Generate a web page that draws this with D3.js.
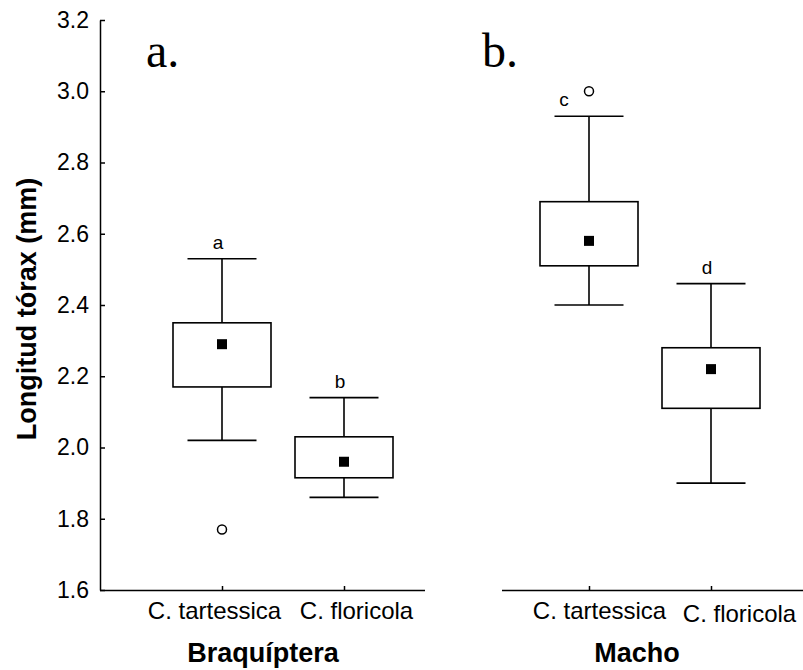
<!DOCTYPE html>
<html>
<head>
<meta charset="utf-8">
<script src="https://cdn.jsdelivr.net/npm/d3@7"></script>
<style>
  body { margin: 0; background: #fff; }
  svg { display: block; }
</style>
</head>
<body>
<script>
// Thorax length by species, for brachypterous females and males
const panels = ["Braquíptera", "Macho"];
const panelTags = ["a.", "b."];
const species = ["C. tartessica", "C. floricola"];

// One entry per box, in order: Braquíptera/tartessica, Braquíptera/floricola, Macho/tartessica, Macho/floricola
const boxPanel = ["Braquíptera", "Braquíptera", "Macho", "Macho"];
const boxSpecies = ["C. tartessica", "C. floricola", "C. tartessica", "C. floricola"];
const whiskerTop = [2.53, 2.14, 2.93, 2.46];
const boxTop = [2.35, 2.03, 2.69, 2.28];
const means = [2.29, 1.96, 2.58, 2.22];
const boxBottom = [2.17, 1.915, 2.51, 2.11];
const whiskerBottom = [2.02, 1.86, 2.40, 1.90];
const outliers = [1.77, null, 3.00, null];
const groupLetters = ["a", "b", "c", "d"];

const yTicks = [1.6, 1.8, 2.0, 2.2, 2.4, 2.6, 2.8, 3.0, 3.2];
const yTitle = "Longitud tórax (mm)";

// ---- layout ----
const W = 803, H = 670;
const SANS = "'Liberation Sans', Arial, sans-serif";
const SERIF = "'Liberation Serif', 'Times New Roman', serif";
const LW = 1.6;

const frames = [
  { axis: [100, 425], points: [222, 344], titleX: 263, tagX: 146, labelDx: [-8, 12], labelDy: [0, 0] },
  { axis: [502, 803], points: [589, 711], titleX: 637, tagX: 482, labelDx: [10, 28], labelDy: [0, 3] }
];

const svg = d3.select("body").append("svg")
  .attr("width", W).attr("height", H)
  .style("font-family", SANS);

const y = d3.scaleLinear().domain([1.6, 3.2]).range([590, 20]);

// y axis (left panel only), ticks pointing inwards
const yAxis = svg.append("g")
  .attr("transform", "translate(100,0)")
  .call(d3.axisLeft(y).tickValues(yTicks).tickFormat(d3.format(".1f"))
    .tickSizeInner(-5).tickSizeOuter(0).tickPadding(11));
yAxis.select(".domain").attr("stroke", "#000").attr("stroke-width", 1.5);
yAxis.selectAll(".tick line").attr("stroke", "#000").attr("stroke-width", 1.5);
yAxis.selectAll(".tick text").attr("font-size", 23).attr("font-family", SANS).attr("fill", "#000");

svg.append("text")
  .attr("transform", `translate(36,309) rotate(-90)`)
  .attr("text-anchor", "middle")
  .attr("font-size", 27).attr("font-weight", "bold")
  .text(yTitle);

panels.forEach((panel, p) => {
  const fr = frames[p];
  const x = d3.scalePoint().domain(species).range(fr.points);

  // baseline of the panel
  svg.append("line")
    .attr("x1", fr.axis[0]).attr("x2", fr.axis[1])
    .attr("y1", y(1.6) + 0.5).attr("y2", y(1.6) + 0.5)
    .attr("stroke", "#000").attr("stroke-width", 1.5);

  const xAxis = svg.append("g")
    .attr("transform", `translate(0,${y(1.6)})`)
    .call(d3.axisBottom(x).tickSizeInner(-4).tickSizeOuter(0).tickPadding(13));
  xAxis.select(".domain").remove();
  xAxis.selectAll(".tick line").attr("stroke", "#000").attr("stroke-width", 1.5);
  xAxis.selectAll(".tick text")
    .attr("font-size", 24).attr("font-family", SANS).attr("fill", "#000")
    .attr("dx", (d, i) => fr.labelDx[i])
    .attr("y", (d, i) => 12 + fr.labelDy[i]);

  // panel title under the axis
  svg.append("text")
    .attr("x", fr.titleX).attr("y", 662)
    .attr("text-anchor", "middle")
    .attr("font-size", 27).attr("font-weight", "bold")
    .text(panel);

  // panel tag
  svg.append("text")
    .attr("x", fr.tagX).attr("y", 67)
    .attr("font-family", SERIF).attr("font-size", 48)
    .text(panelTags[p]);

  // boxes of this panel
  const idx = d3.range(boxPanel.length).filter(i => boxPanel[i] === panel);
  const boxW = 98, capW = 69, meanS = 10;
  const g = svg.append("g").attr("stroke", "#000").attr("stroke-width", LW);

  idx.forEach(i => {
    const cx = x(boxSpecies[i]);
    // whiskers
    g.append("line").attr("x1", cx).attr("x2", cx)
      .attr("y1", y(whiskerTop[i])).attr("y2", y(boxTop[i]));
    g.append("line").attr("x1", cx).attr("x2", cx)
      .attr("y1", y(boxBottom[i])).attr("y2", y(whiskerBottom[i]));
    g.append("line").attr("x1", cx - capW / 2).attr("x2", cx + capW / 2)
      .attr("y1", y(whiskerTop[i])).attr("y2", y(whiskerTop[i]));
    g.append("line").attr("x1", cx - capW / 2).attr("x2", cx + capW / 2)
      .attr("y1", y(whiskerBottom[i])).attr("y2", y(whiskerBottom[i]));
    // box
    g.append("rect")
      .attr("x", cx - boxW / 2).attr("y", y(boxTop[i]))
      .attr("width", boxW).attr("height", y(boxBottom[i]) - y(boxTop[i]))
      .attr("fill", "#fff");
    // mean marker
    svg.append("rect")
      .attr("x", cx - meanS / 2).attr("y", y(means[i]) - meanS / 2)
      .attr("width", meanS).attr("height", meanS)
      .attr("fill", "#000");
    // outlier
    if (outliers[i] !== null) {
      svg.append("circle")
        .attr("cx", cx).attr("cy", y(outliers[i])).attr("r", 4.5)
        .attr("fill", "#fff").attr("stroke", "#000").attr("stroke-width", 1.5);
    }
    // group letter above the upper whisker, moved aside when an outlier sits there
    const upperOutlier = outliers[i] !== null && outliers[i] > whiskerTop[i];
    svg.append("text")
      .attr("x", cx - (upperOutlier ? 25 : 4))
      .attr("y", y(whiskerTop[i]) - 10)
      .attr("text-anchor", "middle")
      .attr("font-size", 19)
      .text(groupLetters[i]);
  });
});
</script>
</body>
</html>
